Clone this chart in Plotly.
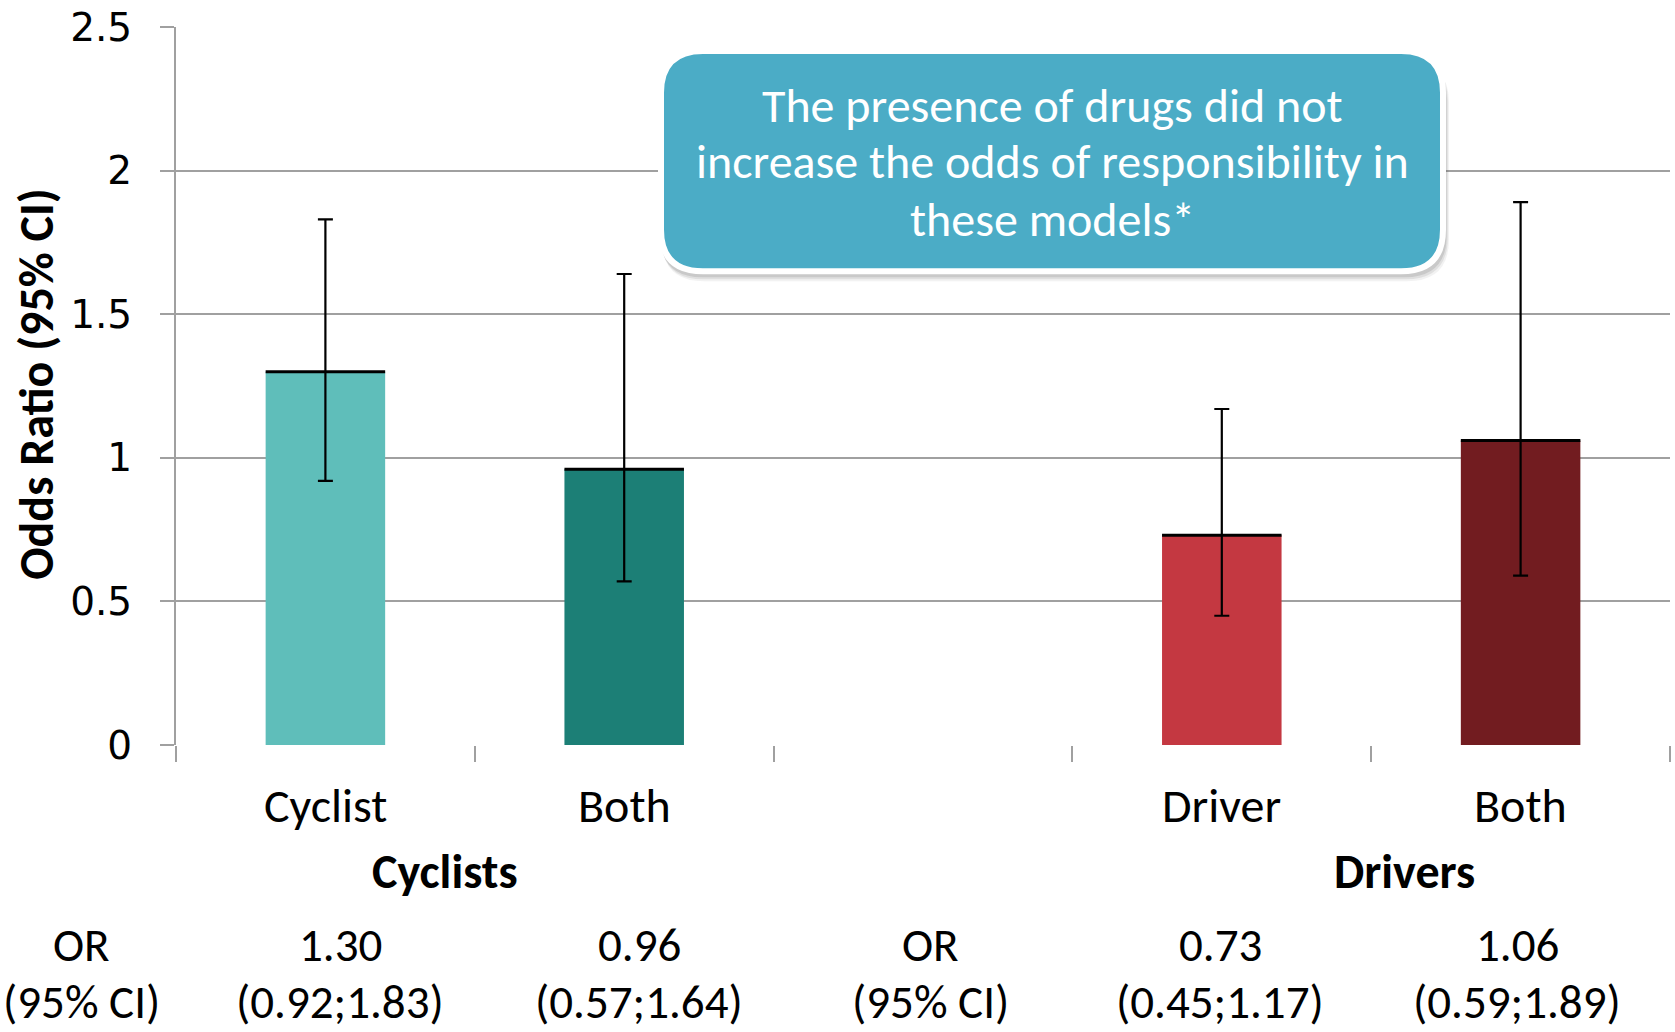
import plotly.graph_objects as go

# Odds ratios of responsibility with 95% confidence intervals
categories = ["Cyclist", "Both", "", "Driver", "Both"]
odds_ratio = [1.30, 0.96, None, 0.73, 1.06]
ci_low = [0.92, 0.57, None, 0.45, 0.59]
ci_high = [1.83, 1.64, None, 1.17, 1.89]
group_labels = ["Cyclists", "Drivers"]
y_ticks = [0, 0.5, 1, 1.5, 2, 2.5]
callout_lines = ["The presence of drugs did not",
                 "increase the odds of responsibility in",
                 "these models*"]

# styling
bar_colors = ["#5FBEBA", "#1C7F76", "#FFFFFF", "#C43841", "#721C20"]
FONT = "Carlito, Lato, sans-serif"
TICK_FONT = "DejaVu Sans, Verdana, sans-serif"
GRID = "#A0A0A0"
TXT = 48

W, H = 1675, 1032
ML, MR, MT, MB = 176, 5, 25, 287
PW, PH = W - ML - MR, H - MT - MB


def px_x(px):
    return (px - ML) / PW


def px_y(py):
    return (H - MB - py) / PH


x_idx = list(range(len(categories)))
err_plus = [None if v is None else round(h - v, 4) for v, h in zip(odds_ratio, ci_high)]
err_minus = [None if v is None else round(v - l, 4) for v, l in zip(odds_ratio, ci_low)]

fig = go.Figure()
fig.add_trace(go.Bar(
    x=x_idx, y=odds_ratio, width=0.4,
    marker=dict(color=bar_colors, line=dict(width=0)),
    error_y=dict(type="data", symmetric=False, array=err_plus, arrayminus=err_minus,
                 color="#000000", thickness=2.2, width=7.5),
    hoverinfo="skip", showlegend=False,
))

shapes = []
# black cap line on top of each bar
for i, v in enumerate(odds_ratio):
    if v is None:
        continue
    shapes.append(dict(type="line", xref="x", yref="y", x0=i - 0.2, x1=i + 0.2,
                       y0=v, y1=v, line=dict(color="#000000", width=3), layer="above"))


def rounded_rect(x0, y0, x1, y1, r):
    pts = [
        ("M", (x0 + r, y0)), ("L", (x1 - r, y0)), ("Q", (x1, y0), (x1, y0 + r)),
        ("L", (x1, y1 - r)), ("Q", (x1, y1), (x1 - r, y1)),
        ("L", (x0 + r, y1)), ("Q", (x0, y1), (x0, y1 - r)),
        ("L", (x0, y0 + r)), ("Q", (x0, y0), (x0 + r, y0)),
    ]
    out = []
    for cmd, *coords in pts:
        out.append(cmd + " " + " ".join(f"{px_x(a):.5f},{px_y(b):.5f}" for a, b in coords))
    return " ".join(out) + " Z"


# callout box: soft shadow, white rim, blue fill
bx0, by0, bx1, by1, rad = 661, 49, 1443, 270, 42
for off, alpha in [(10, 0.08), (8, 0.12), (6, 0.16)]:
    shapes.append(dict(type="path", xref="paper", yref="paper",
                       path=rounded_rect(bx0 - 3 + off * 0.4, by0 + off, bx1 + off * 0.6, by1 + off, rad),
                       fillcolor=f"rgba(90,90,90,{alpha})", line=dict(width=0), layer="above"))
shapes.append(dict(type="path", xref="paper", yref="paper",
                   path=rounded_rect(bx0, by0, bx1, by1, rad),
                   fillcolor="#4BACC6", line=dict(color="#FFFFFF", width=6), layer="above"))

annotations = []
for line_y, line in zip([104, 160, 218], callout_lines):
    annotations.append(dict(xref="paper", yref="paper", x=px_x(1052), y=px_y(line_y),
                            text=line, showarrow=False, align="center",
                            xanchor="center", yanchor="middle", borderpad=0,
                            font=dict(family=FONT, size=TXT, color="#FFFFFF")))

# y-axis title
annotations.append(dict(xref="paper", yref="paper", x=px_x(37), y=0.503, text="<b>Odds Ratio (95% CI)</b>",
                        textangle=-90, showarrow=False, xanchor="center", yanchor="middle",
                        font=dict(family=FONT, size=48, color="#000000")))

# category labels under each bar
for i, c in enumerate(categories):
    if c:
        annotations.append(dict(xref="x", yref="paper", x=i, y=px_y(806), text=c,
                                showarrow=False, xanchor="center", yanchor="middle",
                                font=dict(family=FONT, size=TXT, color="#000000")))

# group labels
for gx, g in zip([0.40, 3.61], group_labels):
    annotations.append(dict(xref="x", yref="paper", x=gx, y=px_y(872), text=f"<b>{g}</b>",
                            showarrow=False, xanchor="center", yanchor="middle",
                            font=dict(family=FONT, size=TXT, color="#000000")))

# OR / CI table below the chart
TABLE_TXT = 47
row1, row2 = px_y(946), px_y(1003)
for ox in [81, 931]:
    for ry, t in [(row1, "OR"), (row2, "(95% CI)")]:
        annotations.append(dict(xref="paper", yref="paper", x=px_x(ox), y=ry, text=t,
                                showarrow=False, xanchor="center", yanchor="middle", borderpad=0,
                                font=dict(family=FONT, size=TABLE_TXT, color="#000000")))
table_x = [340, 639, None, 1220, 1517]
for i, v in enumerate(odds_ratio):
    if v is None:
        continue
    for ry, t in [(row1, f"{v:.2f}"), (row2, f"({ci_low[i]:.2f};{ci_high[i]:.2f})")]:
        annotations.append(dict(xref="paper", yref="paper", x=px_x(table_x[i]), y=ry, text=t,
                                showarrow=False, xanchor="center", yanchor="middle", borderpad=0,
                                font=dict(family=FONT, size=TABLE_TXT, color="#000000")))

fig.update_layout(
    width=W, height=H,
    margin=dict(l=ML, r=MR, t=MT, b=MB, pad=0),
    paper_bgcolor="#FFFFFF", plot_bgcolor="#FFFFFF",
    shapes=shapes, annotations=annotations,
    xaxis=dict(range=[-0.5, len(categories) - 0.5], tickvals=[], showgrid=False, zeroline=False,
               showline=False, fixedrange=True,
               minor=dict(tickmode="array", tickvals=[k - 0.5 for k in range(len(categories) + 1)],
                          ticks="outside", ticklen=16, tickwidth=2, tickcolor=GRID, showgrid=False)),
    yaxis=dict(range=[0, 2.5], tickvals=y_ticks, ticktext=[f"{t:g}" for t in y_ticks],
               showgrid=True, gridcolor=GRID, gridwidth=2, zeroline=False,
               showline=True, linecolor=GRID, linewidth=2,
               ticks="outside", ticklen=14, tickwidth=2, tickcolor=GRID,
               ticklabelstandoff=20,
               tickfont=dict(family=TICK_FONT, size=39, color="#000000")),
)

fig.write_html("out.html")
